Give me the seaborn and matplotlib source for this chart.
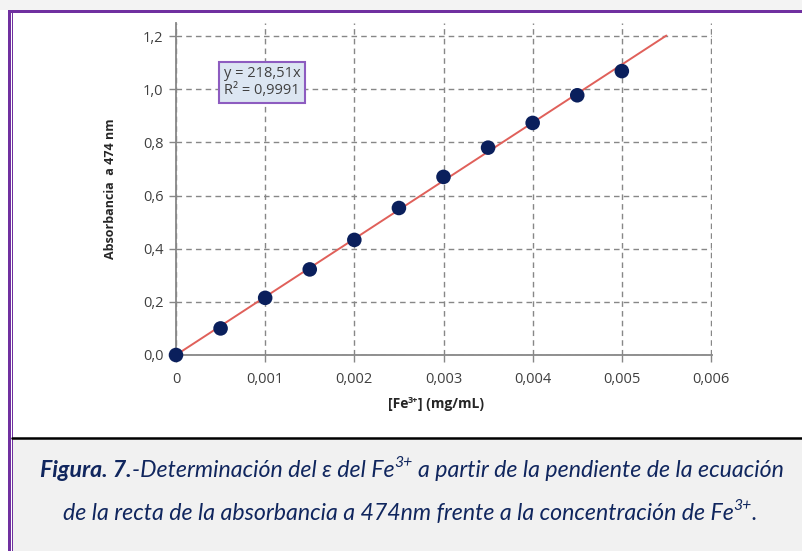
import matplotlib
matplotlib.use("Agg")
import matplotlib.pyplot as plt
from matplotlib.patches import Rectangle
from matplotlib.lines import Line2D
import seaborn as sns
import pandas as pd

# Calibration data: Fe3+ concentration (mg/mL) vs absorbance at 474 nm
concentration = [0.0, 0.0005, 0.001, 0.0015, 0.002, 0.0025, 0.003, 0.0035, 0.004, 0.0045, 0.005]
absorbance = [0.0, 0.100, 0.215, 0.322, 0.433, 0.553, 0.670, 0.780, 0.873, 0.977, 1.068]

# Linear fit through the origin
slope = 218.51
slope_label = "218,51"
r_squared = "0,9991"
fit_x = [0.0, 0.0055]

x_ticks = [0, 0.001, 0.002, 0.003, 0.004, 0.005, 0.006]
x_tick_labels = ["0", "0,001", "0,002", "0,003", "0,004", "0,005", "0,006"]
y_ticks = [0.0, 0.2, 0.4, 0.6, 0.8, 1.0, 1.2]
y_tick_labels = ["0,0", "0,2", "0,4", "0,6", "0,8", "1,0", "1,2"]

sns.set_theme(style="white")
plt.rcParams["font.family"] = ["Open Sans", "DejaVu Sans"]

W, H = 802, 551
fig = plt.figure(figsize=(W / 100, H / 100), dpi=100)
fig.patch.set_facecolor("white")


def fx(px):
    return px / W


def fy(py):
    return 1 - py / H


def draw_runs(cx, baseline, runs, size, color, family, style, sup_scale=0.68, sup_rise=0.42):
    """Draw a line of text made of runs (text, weight, superscript, space_before),
    centred on cx (pixels) with its baseline at `baseline` (pixels)."""
    renderer = fig.canvas.get_renderer()
    probe_a = fig.text(0, 0, "x x", fontsize=size, family=family, style=style)
    probe_b = fig.text(0, 0, "xx", fontsize=size, family=family, style=style)
    space = probe_a.get_window_extent(renderer).width - probe_b.get_window_extent(renderer).width
    probe_a.remove()
    probe_b.remove()
    items = []
    total = 0.0
    for text, weight, sup, gap in runs:
        fs = size * sup_scale if sup else size
        t = fig.text(0, 0, text, fontsize=fs, fontweight=weight, style=style, family=family,
                     color=color, ha="left", va="baseline")
        w = t.get_window_extent(renderer).width
        if gap:
            total += space
        items.append((t, total, sup))
        total += w
    left = cx - total / 2
    for t, off, sup in items:
        rise = size * sup_rise * 100 / 72 if sup else 0
        t.set_position((fx(left + off), fy(baseline - rise)))


purple = "#7030a0"
grey_bg = "#f1f1f1"

# Page background pieces: top strip, caption panel, borders
fig.patches.append(Rectangle((0, fy(10)), 1, 10 / H, transform=fig.transFigure,
                             facecolor="#f3f3f3", edgecolor="none", zorder=0))
fig.patches.append(Rectangle((fx(12), 0), 1, fy(438), transform=fig.transFigure,
                             facecolor=grey_bg, edgecolor="none", zorder=0))
fig.patches.append(Rectangle((fx(8), fy(13)), 1, 3 / H, transform=fig.transFigure,
                             facecolor=purple, edgecolor="none", zorder=1))
fig.patches.append(Rectangle((fx(8), 0), 2.5 / W, fy(10), transform=fig.transFigure,
                             facecolor=purple, edgecolor="none", zorder=1))
fig.patches.append(Rectangle((fx(11.5), 0), 1.2 / W, fy(13), transform=fig.transFigure,
                             facecolor=purple, edgecolor="none", zorder=1))
fig.lines.append(Line2D([fx(12), 1], [fy(437.5), fy(437.5)], transform=fig.transFigure,
                        color="black", linewidth=1.8, zorder=2))

# Plot area
x0, x1 = 176, 712
y0, ytop = 355, 23
ax = fig.add_axes([fx(x0), fy(y0), (x1 - x0) / W, (y0 - ytop) / H])
ax.set_facecolor("none")
ymax = 1.2 * (y0 - ytop) / (y0 - 36)
ax.set_xlim(0, 0.006 * (x1 - x0) / (711 - x0))
ax.set_ylim(0, ymax)

grid_color = "#878787"
ax.set_xticks(x_ticks)
ax.set_xticklabels(x_tick_labels)
ax.set_yticks(y_ticks)
ax.set_yticklabels(y_tick_labels)
ax.grid(True, color=grid_color, linestyle=(0, (4, 3)), linewidth=1.0)
ax.set_axisbelow(True)
ax.tick_params(axis="both", direction="out", length=5, width=1.0, color=grid_color,
               labelsize=10.5, labelcolor="#404040", left=True, bottom=True)
ax.tick_params(axis="x", pad=7)
ax.tick_params(axis="y", pad=4)
for side in ["top", "right"]:
    ax.spines[side].set_visible(False)
for side in ["left", "bottom"]:
    ax.spines[side].set_color(grid_color)
    ax.spines[side].set_linewidth(1.3)
    ax.spines[side].set_zorder(3)

df = pd.DataFrame({"conc": concentration, "abs": absorbance})
fit_df = pd.DataFrame({"conc": fit_x, "abs": [slope * v for v in fit_x]})
sns.lineplot(data=fit_df, x="conc", y="abs", color="#e0605a", linewidth=1.4, ax=ax, zorder=4)
sns.scatterplot(data=df, x="conc", y="abs", color="#0a1f5c", s=110, edgecolor="none",
                ax=ax, zorder=5, clip_on=False)

ax.set_xlabel("")
ax.set_ylabel("Absorbancia  a 474 nm", fontsize=9, fontweight="bold", color="#262626", labelpad=19)

ax.text(0.000966, 1.026, "y = " + slope_label + "x\nR² = " + r_squared, ha="center", va="center",
        fontsize=10.5, color="#404040", linespacing=1.15, zorder=6,
        bbox=dict(boxstyle="square,pad=0.32", facecolor="#dce6f2", edgecolor="#8d5cc0", linewidth=1.5))

# x-axis title with superscript charge
draw_runs(436, 408,
          [("[Fe", "bold", False, False), ("3+", "bold", True, False), ("] (mg/mL)", "bold", False, False)],
          size=10, color="#262626", family=["Open Sans", "DejaVu Sans"], style="normal",
          sup_scale=0.65, sup_rise=0.38)

# Caption
cap_color = "#10265e"
cap_family = ["Lato", "DejaVu Sans"]
cap_size = 16.7
draw_runs(412, 477,
          [("Figura. 7.", "bold", False, False),
           ("-Determinación del ε del Fe", "normal", False, False),
           ("3+", "normal", True, False),
           ("a partir de la pendiente de la ecuación", "normal", False, True)],
          size=cap_size, color=cap_color, family=cap_family, style="italic")
draw_runs(410, 520,
          [("de la recta de la absorbancia a 474nm frente a la concentración de Fe", "normal", False, False),
           ("3+", "normal", True, False),
           (".", "normal", False, False)],
          size=cap_size, color=cap_color, family=cap_family, style="italic")

fig.savefig("out.png", dpi=100, facecolor=fig.get_facecolor())
